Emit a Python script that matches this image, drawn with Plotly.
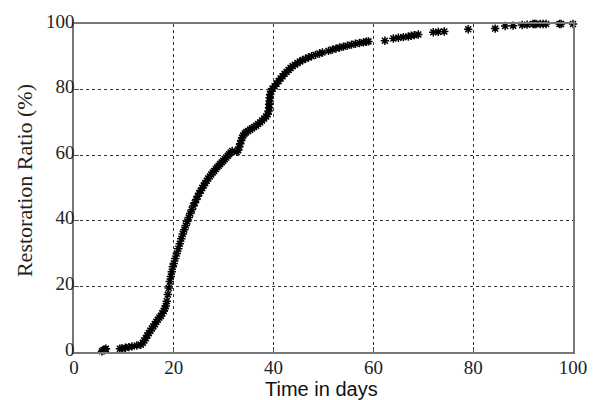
import plotly.graph_objects as go

days = [5.6, 5.9, 6.2, 6.4,
        9.2, 9.6, 10.3, 11.0, 11.6, 12.6, 13.4,
        13.8, 14.1, 14.4, 14.7, 15.0, 15.3, 15.6, 15.9, 16.2, 16.5, 16.8, 17.1, 17.4, 17.7,
        18.0, 18.2, 18.4, 18.6, 18.8, 19.0, 19.2, 19.4, 19.6, 19.8, 20.0, 20.3, 20.6, 20.9,
        21.2, 21.5, 21.8, 22.1, 22.4, 22.7, 23.0, 23.3, 23.6, 23.9, 24.2, 24.5, 24.8, 25.1,
        25.4, 25.7, 26.0, 26.3, 26.6, 26.9, 27.2, 27.5, 27.8, 28.1, 28.4, 28.7, 29.0, 29.3,
        29.6, 29.9, 30.2, 30.5, 30.8, 31.1, 31.4, 31.7,
        32.6, 32.9, 33.1, 33.3, 33.5, 33.7, 33.9, 34.2, 34.5, 34.9, 35.3, 35.7, 36.1, 36.5,
        36.9, 37.3, 37.7, 38.1, 38.5, 38.8, 39.0, 39.1, 39.1, 39.2, 39.2, 39.3, 39.5, 39.8,
        40.2, 40.6, 41.0, 41.4, 41.8, 42.2, 42.6, 43.0, 43.4, 43.8, 44.3, 44.8, 45.3, 45.8,
        46.4, 47.0, 47.6, 48.4, 49.2, 49.8, 51.0, 51.8, 52.5, 53.2, 54.0, 54.8, 55.6, 56.4,
        57.2, 58.0, 58.6, 59.0,
        62.3, 64.0, 65.0, 66.0, 67.0, 67.6, 68.2, 69.0,
        72.0, 73.0, 74.2,
        79.0, 84.4, 86.4, 88.0, 89.8, 90.8, 92.0, 92.3, 92.6, 93.4, 94.0, 94.6, 97.3, 97.6, 100.0]

ratio = [0.2, 0.5, 0.8, 1.0,
         1.0, 1.1, 1.3, 1.5, 1.7, 2.0, 2.2,
         2.8, 3.5, 4.2, 5.0, 5.8, 6.5, 7.2, 7.8, 8.5, 9.2, 9.8, 10.5, 11.0, 11.8,
         12.5, 13.3, 14.0, 15.5, 17.5, 19.5, 21.5, 23.0, 24.5, 26.0, 27.0, 28.5, 30.0, 31.5,
         33.0, 34.5, 36.0, 37.3, 38.6, 39.8, 41.0, 42.2, 43.4, 44.5, 45.5, 46.5, 47.5, 48.4,
         49.2, 50.0, 50.8, 51.5, 52.2, 52.9, 53.5, 54.1, 54.7, 55.2, 55.8, 56.3, 56.8, 57.3,
         57.8, 58.3, 58.8, 59.3, 59.8, 60.3, 60.8, 61.3,
         61.0, 61.5, 62.5, 63.5, 64.5, 65.3, 66.0, 66.6, 67.0, 67.4, 67.8, 68.2, 68.6, 69.0,
         69.5, 70.0, 70.6, 71.2, 71.8, 72.5, 73.5, 74.5, 75.5, 76.5, 77.5, 78.5, 79.5, 80.3,
         81.0, 81.8, 82.6, 83.4, 84.1, 84.8, 85.4, 86.0, 86.6, 87.1, 87.6, 88.1, 88.6, 89.0,
         89.4, 89.8, 90.2, 90.6, 91.0, 91.3, 91.8, 92.2, 92.5, 92.8, 93.1, 93.4, 93.7, 94.0,
         94.2, 94.4, 94.6, 94.7,
         94.9, 95.6, 95.8, 96.0, 96.2, 96.4, 96.6, 96.8,
         97.5, 97.6, 97.7,
         98.4, 98.6, 99.4, 99.5, 99.7, 99.8, 100, 100, 100, 100, 100, 100, 100, 100, 100]

tick_vals = [0, 20, 40, 60, 80, 100]
x_title = "Time in days"
y_title = "Restoration Ratio (%)"

fig = go.Figure()
fig.add_trace(go.Scatter(
    x=days, y=ratio, mode="markers",
    marker=dict(symbol="asterisk-open", size=7, color="black",
                line=dict(color="black", width=1.5)),
    showlegend=False, cliponaxis=False,
))

serif = "Liberation Serif"
axis_common = dict(
    showgrid=True, gridcolor="#333333", griddash="dot", gridwidth=1,
    showline=True, linecolor="#777777", linewidth=1.5, mirror=True,
    ticks="inside", ticklen=5, tickcolor="#555555",
    zeroline=False, automargin=False,
    tickfont=dict(family=serif, size=19, color="#222222"),
    tickvals=tick_vals,
)

# page body has an 8px default margin, so the figure is 590x392
fig.update_layout(
    width=590, height=392,
    margin=dict(l=66, r=25, t=16, b=48),
    plot_bgcolor="white", paper_bgcolor="white",
    xaxis=dict(range=[0, 100], ticklabelstandoff=-3, **axis_common),
    yaxis=dict(range=[0, 100], ticklabelstandoff=-6, ticklabelshift=-3, **axis_common),
    annotations=[
        dict(text=x_title, xref="paper", yref="paper", x=0.496, y=-0.112,
             xanchor="center", yanchor="middle", showarrow=False,
             font=dict(family="Liberation Sans", size=20, color="#111111")),
        dict(text=y_title, xref="paper", yref="paper", x=-0.099, y=0.523,
             xanchor="center", yanchor="middle", showarrow=False, textangle=-90,
             font=dict(family=serif, size=22, color="#222222")),
    ],
)

fig.write_html("out.html")
